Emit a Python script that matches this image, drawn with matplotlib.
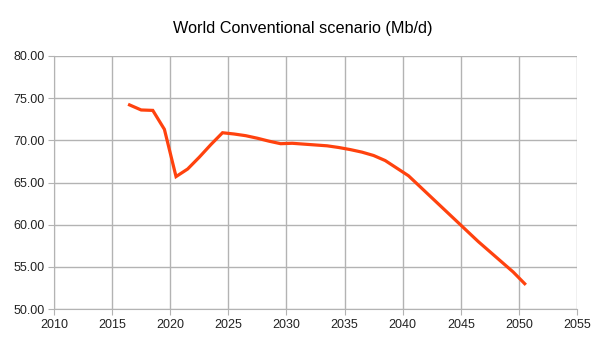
import matplotlib.pyplot as plt
import numpy as np

plt.rcParams['font.family'] = ['Liberation Sans', 'DejaVu Sans']

years = [2016.5, 2017.5, 2018.5, 2019.5, 2020.5, 2021.5, 2022.5, 2023.5, 2024.5,
         2025.5, 2026.5, 2027.5, 2028.5, 2029.5, 2030.5, 2031.5, 2032.5, 2033.5,
         2034.5, 2035.5, 2036.5, 2037.5, 2038.5, 2039.5, 2040.5, 2041.5, 2042.5,
         2043.5, 2044.5, 2045.5, 2046.5, 2047.5, 2048.5, 2049.5, 2050.5]
output = [74.2, 73.6, 73.55, 71.3, 65.7, 66.6, 68.0, 69.5, 70.9,
          70.75, 70.55, 70.25, 69.9, 69.6, 69.65, 69.55, 69.45, 69.35,
          69.15, 68.9, 68.6, 68.2, 67.6, 66.7, 65.8, 64.5, 63.2,
          61.9, 60.6, 59.3, 58.0, 56.8, 55.6, 54.4, 53.0]

x_ticks = np.arange(2010, 2056, 5)
y_ticks = np.arange(50, 81, 5)

fig = plt.figure(figsize=(6.05, 3.4), dpi=100)
ax = fig.add_axes([54 / 605, 1 - 309 / 340, 523 / 605, 253 / 340])

ax.plot(years, output, color="#ff420e", linewidth=2.3, solid_joinstyle="miter")

ax.set_xlim(2010, 2055)
ax.set_ylim(50, 80)
ax.set_xticks(x_ticks)
ax.set_yticks(y_ticks)
ax.set_yticklabels([f"{v:.2f}" for v in y_ticks])
ax.grid(True, color="#b3b3b3", linewidth=1)
ax.set_axisbelow(True)
for side in ["top", "right"]:
    ax.spines[side].set_visible(False)
for side in ["left", "bottom"]:
    ax.spines[side].set_color("#b3b3b3")
ax.tick_params(colors="#b3b3b3", labelcolor="#222222", labelsize=9, length=4, pad=3)

fig.suptitle("World Conventional scenario (Mb/d)", y=1 - 29 / 340, va="center", fontsize=11.7)

fig.savefig("out.png", dpi=100)
